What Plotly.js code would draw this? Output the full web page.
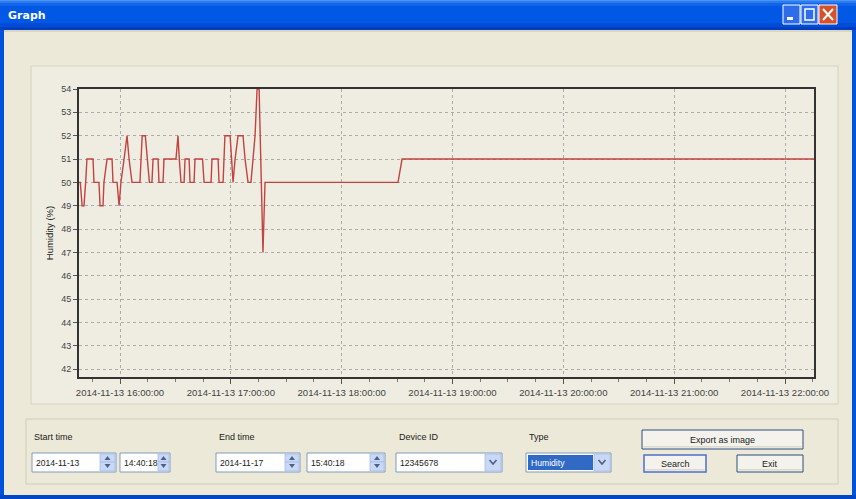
<!DOCTYPE html>
<html><head><meta charset="utf-8">
<script src="https://cdn.plot.ly/plotly-3.0.1.min.js"></script>
<style>html,body{margin:0;padding:0;background:#ECE9D8;overflow:hidden}#chart{width:856px;height:499px}</style>
</head><body><div id="chart"></div>
<script>
// ---- data ----
const times = [
 '2014-11-13 15:37:48','2014-11-13 15:38:30','2014-11-13 15:39:30','2014-11-13 15:40:30','2014-11-13 15:41:24',
 '2014-11-13 15:42:06','2014-11-13 15:45:24','2014-11-13 15:45:54','2014-11-13 15:48:36','2014-11-13 15:49:12',
 '2014-11-13 15:50:48','2014-11-13 15:51:18','2014-11-13 15:53:00','2014-11-13 15:55:42','2014-11-13 15:56:12',
 '2014-11-13 15:58:24','2014-11-13 15:59:30','2014-11-13 16:00:30','2014-11-13 16:02:12','2014-11-13 16:03:48',
 '2014-11-13 16:04:54','2014-11-13 16:06:30','2014-11-13 16:10:48','2014-11-13 16:12:00','2014-11-13 16:13:42',
 '2014-11-13 16:15:54','2014-11-13 16:17:18','2014-11-13 16:17:54','2014-11-13 16:20:36','2014-11-13 16:21:06',
 '2014-11-13 16:23:18','2014-11-13 16:23:48','2014-11-13 16:30:18','2014-11-13 16:31:24','2014-11-13 16:32:06',
 '2014-11-13 16:33:00','2014-11-13 16:34:42','2014-11-13 16:35:12','2014-11-13 16:37:24','2014-11-13 16:37:54',
 '2014-11-13 16:40:06','2014-11-13 16:40:36','2014-11-13 16:44:40','2014-11-13 16:45:30','2014-11-13 16:49:18',
 '2014-11-13 16:49:48','2014-11-13 16:53:06','2014-11-13 16:53:36','2014-11-13 16:55:48','2014-11-13 16:56:18',
 '2014-11-13 16:56:48','2014-11-13 16:59:36','2014-11-13 17:00:24','2014-11-13 17:01:12','2014-11-13 17:02:18',
 '2014-11-13 17:03:54','2014-11-13 17:06:36','2014-11-13 17:07:42','2014-11-13 17:09:18','2014-11-13 17:10:54',
 '2014-11-13 17:12:00','2014-11-13 17:13:06','2014-11-13 17:14:12','2014-11-13 17:15:18','2014-11-13 17:17:24',
 '2014-11-13 17:18:30','2014-11-13 18:30:30','2014-11-13 18:32:42','2014-11-13 22:15:42'
];
const humidity = [
 50,50,49,49,50, 51,51,50,50,49, 49,50,51,51,50, 50,49,50,51,52,
 51,50,50,52,52, 50,50,51,51,50, 50,51,51,52,51, 50,50,51,51,50,
 50,51,51,50,50, 51,51,50,50,51, 52,52,51,50,51, 52,52,51,50,50,
 51,52,54,54,47, 50,50,51,51
];
const xRange = ['2014-11-13 15:37:48','2014-11-13 22:15:42'];
const yRange = [41.66, 54];
const xTick0 = '2014-11-13 16:00:00';
const yTitle = 'Humidity (%)';
const windowTitle = 'Graph';
const formLabels = ['Start time','End time','Device ID','Type'];
const formValues = ['2014-11-13','14:40:18','2014-11-17','15:40:18','12345678','Humidity'];
const buttonLabels = ['Export as image','Search','Exit'];

// ---- layout helpers (window chrome, pixel -> paper) ----
const L=79,R=814,T=89,B=377;
const px = x => (x-L)/(R-L);
const py = y => (B-y)/(B-T);
const shapes=[], annotations=[];
function rect(x0,y0,x1,y1,fill,line,lw){
  shapes.push({type:'rect',xref:'paper',yref:'paper',x0:px(x0),x1:px(x1),y0:py(y1),y1:py(y0),
    fillcolor:fill||'rgba(0,0,0,0)',line:{color:line||'rgba(0,0,0,0)',width:lw||0},layer:'below'});
}
function path(pts,fill,line,lw){
  const d='M'+pts.map(p=>px(p[0])+','+py(p[1])).join('L')+(fill?'Z':'');
  shapes.push({type:'path',xref:'paper',yref:'paper',path:d,fillcolor:fill||'rgba(0,0,0,0)',
    line:{color:line||'rgba(0,0,0,0)',width:lw||0},layer:'below'});
}
function label(x,y,s,o){
  o=o||{};
  annotations.push({xref:'paper',yref:'paper',x:px(x),y:py(y),text:s,showarrow:false,
    xanchor:o.anchor||'left',yanchor:'middle',borderpad:0,
    font:{family:o.family||'Liberation Sans, Arial, sans-serif',size:o.size||9,color:o.color||'#222'}});
}
// title bar
const bars=[[0,1,'#4A94F7'],[1,3,'#2C7BF1'],[3,6,'#1265E8'],[6,23,'#0058E4'],[23,27,'#004CD6'],[27,30,'#0040C0']];
bars.forEach(b=>rect(0,b[0],856,b[1],b[2]));
rect(0,30,4,499,'#0052DC'); rect(852,30,856,499,'#0052DC'); rect(0,495,856,499,'#0046C8');
rect(4,30,852,32,'#DAD6C6');
label(7,15,'<b>'+windowTitle+'</b>',{color:'#FFFFFF',size:11,family:'DejaVu Sans, sans-serif'});
// caption buttons
rect(783,5,800,24,'#2E6CEA','#FFFFFF',1);
rect(787,17,793,20,'#FFFFFF');
rect(801,5,818,24,'#2E6CEA','#FFFFFF',1);
rect(805,9,814,20,'rgba(0,0,0,0)','#FFFFFF',1.5);
rect(819,5,837,24,'#D9512B','#FFFFFF',1);
path([[823,9],[833,20]],null,'#FFFFFF',2); path([[833,9],[823,20]],null,'#FFFFFF',2);
// chart panel
rect(31,66,838,404,'#EFEDE2','#D6D2C2',1);
// bottom group box
rect(26,419,838,484,'rgba(0,0,0,0)','#D0CCBC',1);
// form labels
label(33,437,formLabels[0]); label(218,437,formLabels[1]); label(398,437,formLabels[2]); label(528,437,formLabels[3]);
function spin(x0,x1){
  rect(x0,454,x1,462,'#C9D8F6','#A7BDEB',0.8); rect(x0,462,x1,471,'#C9D8F6','#A7BDEB',0.8);
  const c=(x0+x1)/2;
  path([[c-3,460],[c+3,460],[c,456]],'#4D6185');
  path([[c-3,464],[c+3,464],[c,468]],'#4D6185');
}
function box(x0,x1,txt){ rect(x0,453,x1,472,'#FFFFFF','#7F9DB9',1); label(x0+3,462.5,txt,{size:8.6}); }
box(32,116,formValues[0]); spin(100,115);
box(120,170,formValues[1]); spin(158,169);
box(216,300,formValues[2]); spin(285,299);
box(307,385,formValues[3]); spin(370,384);
function comboArrow(x0,x1){
  rect(x0,454,x1,471,'#C9D8F6','#A7BDEB',0.8);
  const c=(x0+x1)/2;
  path([[c-3.5,460],[c,464],[c+3.5,460]],null,'#4D6185',1.6);
}
box(396,502,formValues[4]); comboArrow(485,501);
rect(526,453,611,472,'#FFFFFF','#7F9DB9',1);
rect(528,455,593,470,'#316AC5');
annotations.push({xref:'paper',yref:'paper',x:px(530),y:py(462.5),text:formValues[5],showarrow:false,xanchor:'left',yanchor:'middle',borderpad:0,font:{family:'Liberation Sans, Arial, sans-serif',size:8.6,color:'#FFFFFF'}});
comboArrow(594,610);
// buttons
function button(x0,y0,x1,y1,txt,focus){
  rect(x0,y0,x1,y1,'#F3F2EC',focus?'#4C6FC8':'#2D4E7E',focus?1.5:1);
  rect(x0+1.5,y1-3,x1-1.5,y1-1.5,'#DDDACB');
  label((x0+x1)/2,(y0+y1)/2+0.5,txt,{anchor:'center'});
}
button(642,430,803,449,buttonLabels[0]);
button(644,455,706,472,buttonLabels[1],true);
button(737,455,803,472,buttonLabels[2]);

const trace={x:times,y:humidity,type:'scatter',mode:'lines',line:{color:'#C4423F',width:1.4},hoverinfo:'x+y'};
const axFont={family:'Liberation Sans, Arial, sans-serif',size:9.6,color:'#444'};
const layout={
  width:856,height:499,margin:{l:L,r:856-R,t:T,b:499-B},
  paper_bgcolor:'#ECE9D8',plot_bgcolor:'rgba(0,0,0,0)',showlegend:false,
  xaxis:{type:'date',range:xRange,tickmode:'linear',tick0:xTick0,dtick:3600000,tickformat:'%Y-%m-%d %H:%M:%S',
    tickfont:axFont,ticks:'outside',ticklen:5,tickcolor:'#555',showgrid:true,gridcolor:'#ABABAB',griddash:'3px,3px',gridwidth:1,
    minor:{dtick:900000,tick0:xTick0,ticks:'outside',ticklen:3,tickcolor:'#777',showgrid:false},
    showline:true,mirror:true,linecolor:'#333',linewidth:2,zeroline:false,fixedrange:true},
  yaxis:{range:yRange,tickmode:'linear',tick0:42,dtick:1,tickfont:{...axFont,size:9},ticks:'outside',ticklen:4,tickcolor:'#555',
    showgrid:true,gridcolor:'#ABABAB',griddash:'3px,3px',gridwidth:1,showline:true,mirror:true,linecolor:'#333',linewidth:2,zeroline:false,
    title:{text:yTitle,font:{family:'Liberation Sans, Arial, sans-serif',size:9.5,color:'#222'},standoff:6},fixedrange:true},
  shapes:shapes,annotations:annotations
};
Plotly.newPlot('chart',[trace],layout,{displayModeBar:false,staticPlot:true});
</script></body></html>
